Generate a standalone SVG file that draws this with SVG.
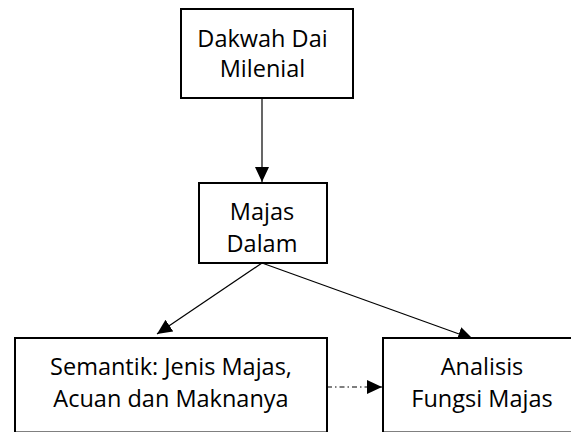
<svg xmlns="http://www.w3.org/2000/svg" width="571" height="432" viewBox="0 0 571 432">
<style>
.box{fill:#fff;stroke:#000;stroke-width:2}
.t{font-family:"Open Sans","Noto Sans","DejaVu Sans",sans-serif;font-size:23.5px;fill:#000;text-anchor:middle}
.c{stroke:#000;stroke-width:1.2;fill:none}
</style>
<defs>
<marker id="ah" markerUnits="userSpaceOnUse" markerWidth="16" markerHeight="15" refX="15" refY="7" orient="auto">
<path d="M0,0 L15,7 L0,14 Z" fill="#000"/>
</marker>
</defs>
<rect width="571" height="432" fill="#fff"/>
<g id="connectors">
<line class="c" x1="262" y1="98" x2="262" y2="182" marker-end="url(#ah)"/>
<line class="c" x1="262" y1="263" x2="157" y2="334" marker-end="url(#ah)"/>
<line class="c" x1="262" y1="263" x2="473" y2="339" marker-end="url(#ah)"/>
<line class="c" x1="327" y1="387" x2="382" y2="387" stroke-dasharray="5 3 1.5 3" marker-end="url(#ah)"/>
</g>
<g id="node-dakwah">
<rect class="box" x="181" y="9" width="172" height="89"/>
<text class="t" x="262.5" y="47">Dakwah Dai</text>
<text class="t" x="262.5" y="77">Milenial</text>
</g>
<g id="node-majas">
<rect class="box" x="199" y="183" width="128" height="80"/>
<text class="t" x="262" y="220">Majas</text>
<text class="t" x="262" y="252">Dalam</text>
</g>
<g id="node-semantik">
<rect class="box" x="15" y="338" width="312" height="94.5"/>
<text class="t" x="171" y="375">Semantik: Jenis Majas,</text>
<text class="t" x="171" y="407">Acuan dan Maknanya</text>
</g>
<g id="node-analisis">
<rect class="box" x="383" y="338" width="190" height="94.5"/>
<text class="t" x="482" y="375">Analisis</text>
<text class="t" x="482" y="407">Fungsi Majas</text>
</g>
</svg>
